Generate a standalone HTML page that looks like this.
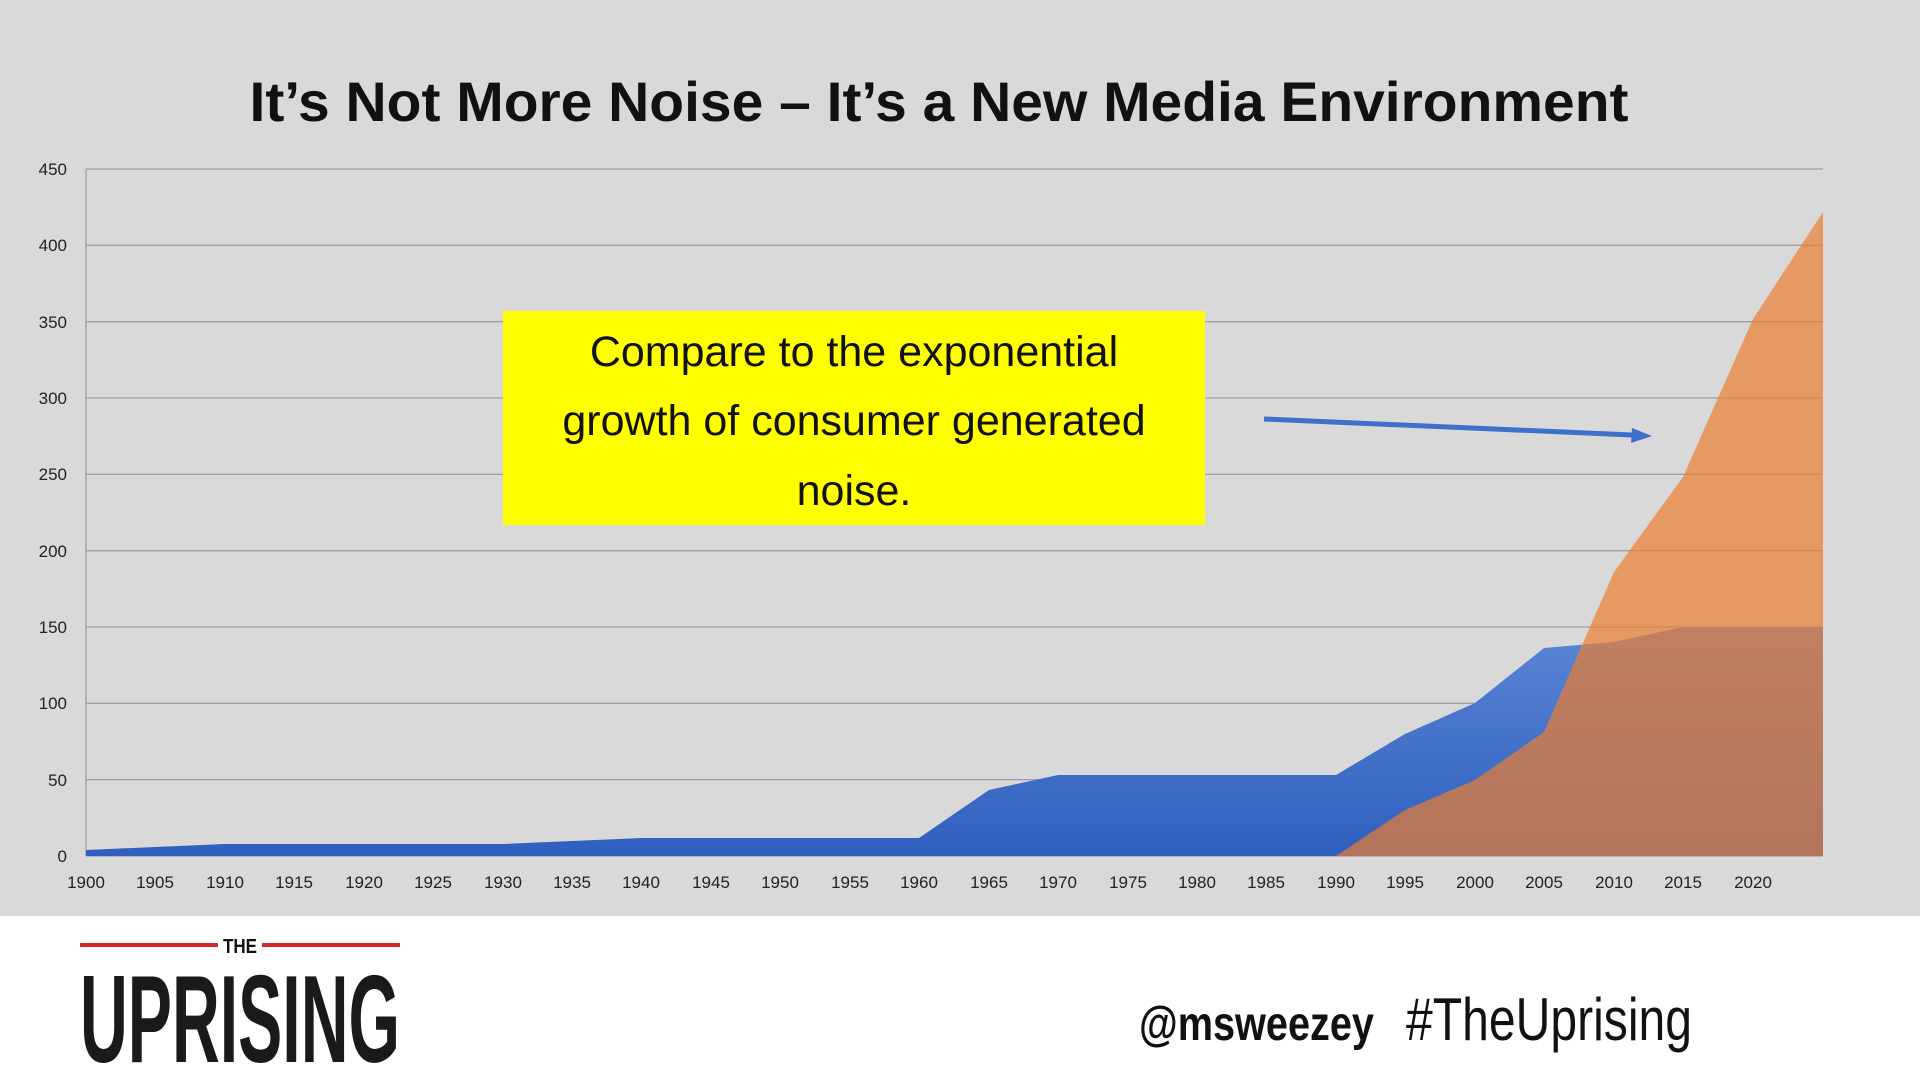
<!DOCTYPE html>
<html><head><meta charset="utf-8"><style>
html,body{margin:0;padding:0;width:1920px;height:1080px;overflow:hidden;background:#fff}
</style></head><body>
<svg width="1920" height="1080" xmlns="http://www.w3.org/2000/svg" font-family="Liberation Sans, sans-serif">
<defs>
<linearGradient id="bg" x1="0" y1="0" x2="0" y2="1"><stop offset="0" stop-color="#5a86d4"/><stop offset="1" stop-color="#2f5fbf"/></linearGradient>
</defs>
<rect x="0" y="0" width="1920" height="916" fill="#d9d9d9"/>
<text x="939" y="121" font-size="56" font-weight="bold" text-anchor="middle" textLength="1379" lengthAdjust="spacingAndGlyphs" fill="#111">It’s Not More Noise – It’s a New Media Environment</text>
<g stroke="#a0a0a0" stroke-width="1.3">
<line x1="86" x2="1823" y1="169" y2="169"/><line x1="86" x2="1823" y1="245.3" y2="245.3"/>
<line x1="86" x2="1823" y1="321.7" y2="321.7"/><line x1="86" x2="1823" y1="398" y2="398"/>
<line x1="86" x2="1823" y1="474.3" y2="474.3"/><line x1="86" x2="1823" y1="550.7" y2="550.7"/>
<line x1="86" x2="1823" y1="627" y2="627"/><line x1="86" x2="1823" y1="703.3" y2="703.3"/>
<line x1="86" x2="1823" y1="779.7" y2="779.7"/><line x1="86" x2="1823" y1="856" y2="856"/>
<line x1="86" x2="86" y1="169" y2="856"/>
</g>
<g font-size="17" fill="#222" text-anchor="end">
<text x="67" y="175">450</text><text x="67" y="251">400</text><text x="67" y="328">350</text>
<text x="67" y="404">300</text><text x="67" y="480">250</text><text x="67" y="557">200</text>
<text x="67" y="633">150</text><text x="67" y="709">100</text><text x="67" y="786">50</text><text x="67" y="862">0</text>
</g>
<g font-size="17" fill="#222" text-anchor="middle">
<text x="86" y="888">1900</text><text x="155" y="888">1905</text><text x="225" y="888">1910</text><text x="294" y="888">1915</text>
<text x="364" y="888">1920</text><text x="433" y="888">1925</text><text x="503" y="888">1930</text><text x="572" y="888">1935</text>
<text x="641" y="888">1940</text><text x="711" y="888">1945</text><text x="780" y="888">1950</text><text x="850" y="888">1955</text>
<text x="919" y="888">1960</text><text x="989" y="888">1965</text><text x="1058" y="888">1970</text><text x="1128" y="888">1975</text>
<text x="1197" y="888">1980</text><text x="1266" y="888">1985</text><text x="1336" y="888">1990</text><text x="1405" y="888">1995</text>
<text x="1475" y="888">2000</text><text x="1544" y="888">2005</text><text x="1614" y="888">2010</text><text x="1683" y="888">2015</text>
<text x="1753" y="888">2020</text>
</g>
<polygon fill="url(#bg)" points="86,856 86,850 155,847 225,844 503,844 572,841 641,838 919,838 989,790 1058,775 1336,775 1405,734 1475,703 1544,648 1614,642 1683,627 1823,627 1823,856"/>
<polygon fill="#ED7D31" fill-opacity="0.7" points="1336,856 1405,810 1475,780 1544,732 1614,572 1683,477 1753,319 1823,212 1823,856"/>
<rect x="503" y="311" width="702" height="214" fill="#ffff00"/>
<g font-size="43" fill="#111" text-anchor="middle">
<text x="854" y="366">Compare to the exponential</text>
<text x="854" y="435">growth of consumer generated</text>
<text x="854" y="505">noise.</text>
</g>
<line x1="1264" y1="419" x2="1632" y2="435" stroke="#3e6fcb" stroke-width="5"/>
<polygon points="1652,436 1632,428 1631,443" fill="#3e6fcb"/>
<line x1="80" y1="945" x2="218" y2="945" stroke="#d9262b" stroke-width="4"/>
<line x1="262" y1="945" x2="400" y2="945" stroke="#d9262b" stroke-width="4"/>
<text x="240" y="953" font-size="20" font-weight="bold" text-anchor="middle" textLength="34" lengthAdjust="spacingAndGlyphs" fill="#111">THE</text>
<text x="80" y="1062" font-size="124" font-weight="bold" textLength="320" lengthAdjust="spacingAndGlyphs" fill="#1a1a1a">UPRISING</text>
<text x="1139" y="1040" font-size="48" font-weight="bold" textLength="235" lengthAdjust="spacingAndGlyphs" fill="#111">@msweezey</text>
<text x="1406" y="1040" font-size="60" textLength="286" lengthAdjust="spacingAndGlyphs" fill="#111" font-weight="normal">#TheUprising</text>
</svg>
</body></html>
